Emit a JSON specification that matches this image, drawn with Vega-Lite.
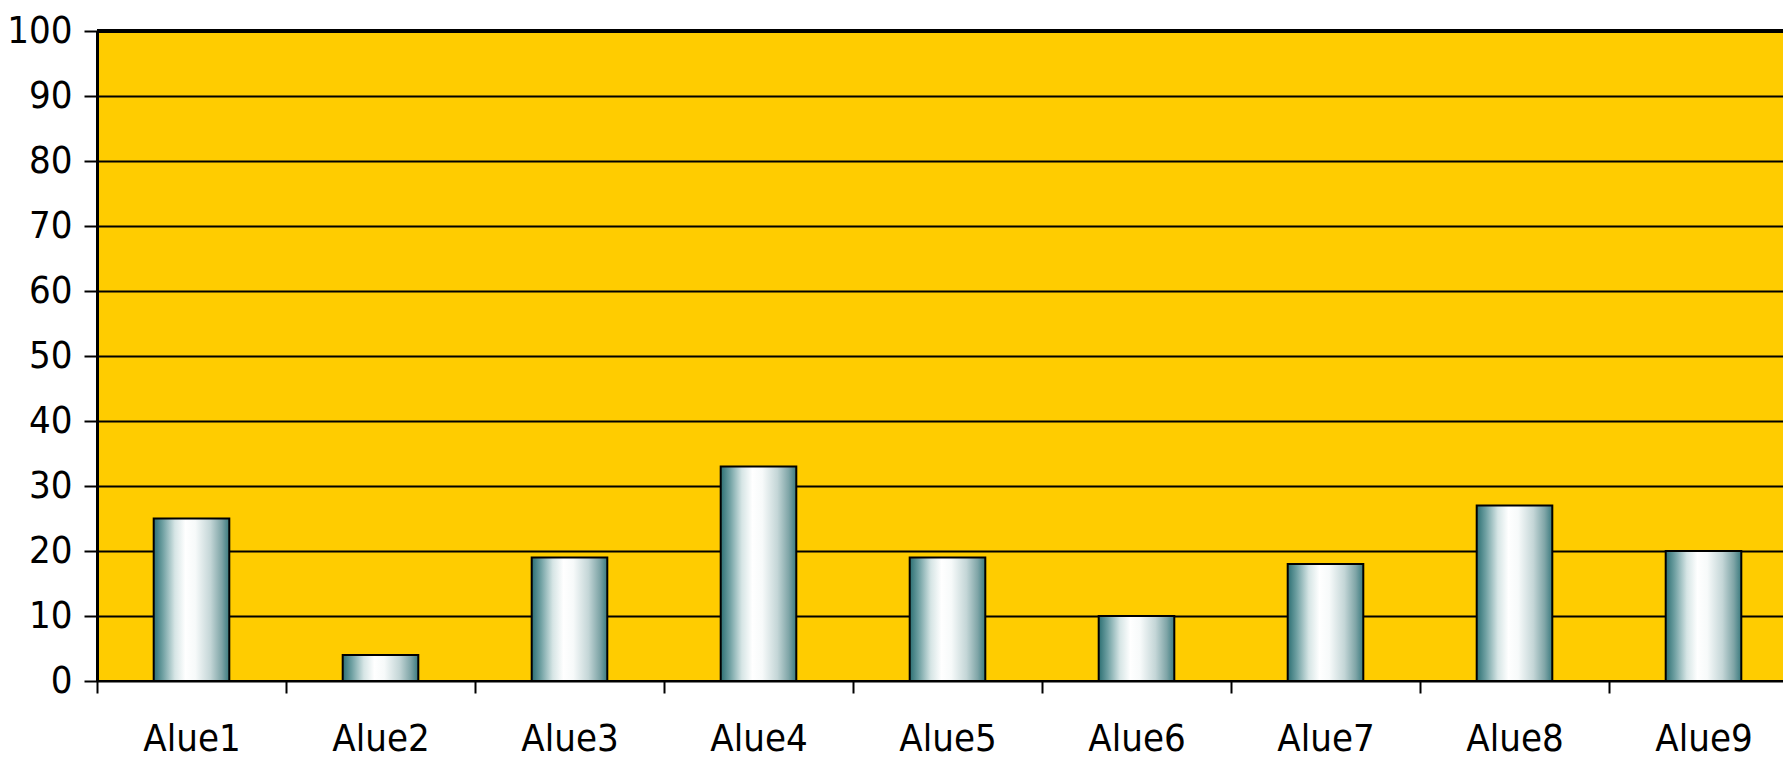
{
  "$schema": "https://vega.github.io/schema/vega-lite/v6.json",
  "autosize": "none",
  "width": 1686,
  "height": 650,
  "padding": {"left": 97, "top": 31, "right": 0, "bottom": 77},
  "background": "white",
  "config": {
    "view": {"stroke": null, "fill": "#FFCC00"},
    "font": "DejaVu Sans Condensed, Liberation Sans, sans-serif"
  },
  "data": {
    "values": [
      {"alue": "Alue1", "arvo": 25},
      {"alue": "Alue2", "arvo": 4},
      {"alue": "Alue3", "arvo": 19},
      {"alue": "Alue4", "arvo": 33},
      {"alue": "Alue5", "arvo": 19},
      {"alue": "Alue6", "arvo": 10},
      {"alue": "Alue7", "arvo": 18},
      {"alue": "Alue8", "arvo": 27},
      {"alue": "Alue9", "arvo": 20}
    ]
  },
  "layer": [
    {
      "mark": {
        "type": "bar",
        "width": {"band": 0.4},
        "stroke": "black",
        "strokeWidth": 2,
        "color": {
          "gradient": "linear",
          "x1": 0, "x2": 1, "y1": 0, "y2": 0,
          "stops": [
            {"offset": 0, "color": "#2C6F73"},
            {"offset": 0.12, "color": "#6FA0A2"},
            {"offset": 0.28, "color": "#D6E5E5"},
            {"offset": 0.42, "color": "#FFFFFF"},
            {"offset": 0.55, "color": "#F7FAFA"},
            {"offset": 0.75, "color": "#C4D6D7"},
            {"offset": 0.9, "color": "#7FA5A7"},
            {"offset": 1, "color": "#3A7A7E"}
          ]
        }
      },
      "encoding": {
        "x": {
          "field": "alue",
          "type": "nominal",
          "sort": null,
          "scale": {"paddingInner": 0, "paddingOuter": 0, "range": [0, 1701]},
          "axis": {
            "title": null,
            "labelAngle": 0,
            "labelFontSize": 38,
            "labelColor": "black",
            "labelPadding": 27,
            "domain": false,
            "ticks": true,
            "tickBand": "extent",
            "tickSize": 12,
            "tickWidth": 2,
            "tickColor": "black",
            "grid": false
          }
        },
        "y": {
          "field": "arvo",
          "type": "quantitative",
          "scale": {"domain": [0, 100], "nice": false},
          "axis": {
            "title": null,
            "values": [0, 10, 20, 30, 40, 50, 60, 70, 80, 90, 100],
            "labelFontSize": 38,
            "labelColor": "black",
            "labelPadding": 12,
            "tickSize": 13,
            "tickWidth": 2,
            "tickColor": "black",
            "domain": true,
            "domainWidth": 3,
            "domainColor": "black",
            "grid": true,
            "gridColor": "black",
            "gridWidth": 2,
            "gridOpacity": 1,
            "zindex": 0
          }
        }
      }
    },
    {
      "mark": {"type": "rule", "color": "black", "strokeWidth": 3},
      "encoding": {"y": {"datum": 100}}
    },
    {
      "mark": {"type": "rule", "color": "black", "strokeWidth": 2},
      "encoding": {"y": {"datum": 0}}
    }
  ]
}
